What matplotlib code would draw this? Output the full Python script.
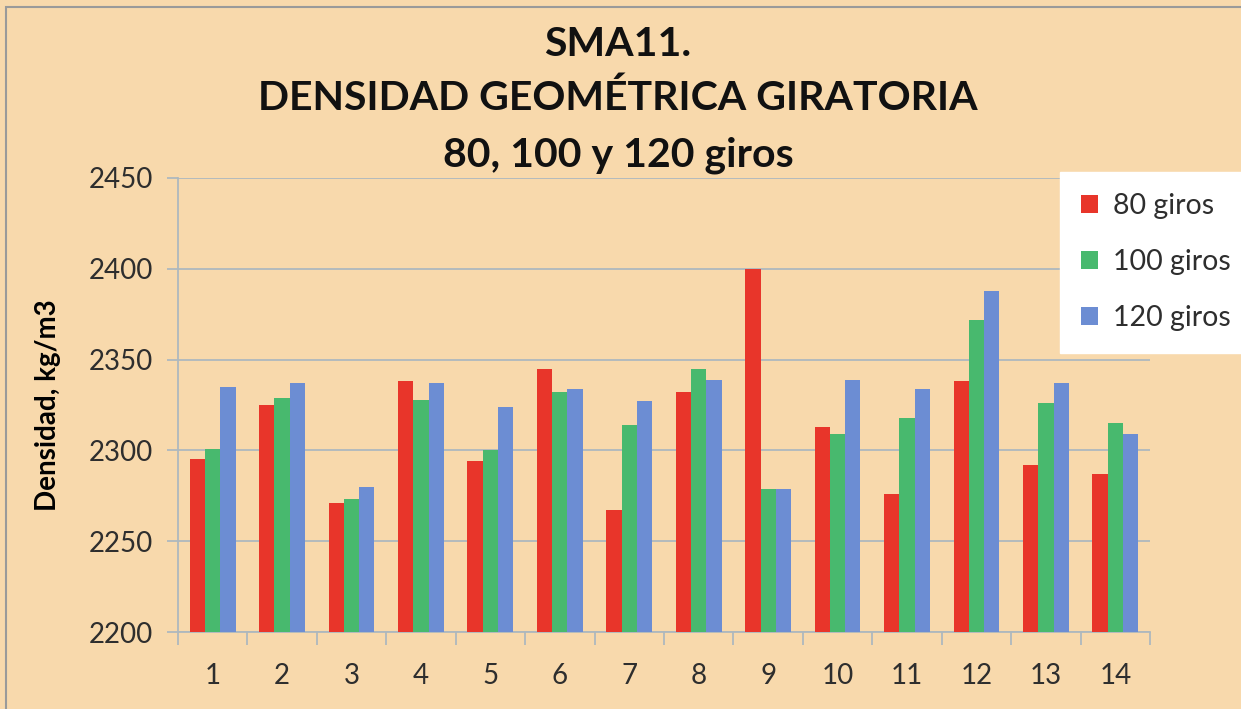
import numpy as np
import matplotlib
matplotlib.use('Agg')
import matplotlib.pyplot as plt
from matplotlib.patches import Rectangle

plt.rcParams['font.family'] = ['Lato', 'DejaVu Sans']

# values
muestras = ['1', '2', '3', '4', '5', '6', '7', '8', '9', '10', '11', '12', '13', '14']
giros_80 = [2295, 2325, 2271, 2338, 2294, 2345, 2267, 2332, 2400, 2313, 2276, 2338, 2292, 2287]
giros_100 = [2301, 2329, 2273, 2328, 2300, 2332, 2314, 2345, 2279, 2309, 2318, 2372, 2326, 2315]
giros_120 = [2335, 2337, 2280, 2337, 2324, 2334, 2327, 2339, 2279, 2339, 2334, 2388, 2337, 2309]
series_names = ['80 giros', '100 giros', '120 giros']
colores = ['#E8352A', '#48B96E', '#6C8DD3']
titulo = ['SMA11.', 'DENSIDAD GEOMÉTRICA GIRATORIA', '80, 100 y 120 giros']

bg = '#F8D9AC'
fig = plt.figure(figsize=(12.41, 7.09), dpi=100, facecolor=bg)
ax = fig.add_axes([0.1434, 0.1086, 0.7833, 0.6404])
ax.set_facecolor(bg)

x = np.arange(len(muestras))
w = 0.22
for i, (vals, name, c) in enumerate(zip([giros_80, giros_100, giros_120], series_names, colores)):
    ax.bar(x + (i - 1) * w, vals, w, bottom=0, color=c, label=name, zorder=3)

ax.set_ylim(2200, 2450)
ax.set_xlim(-0.5, len(muestras) - 0.5)
ax.set_yticks(np.arange(2200, 2451, 50))
ax.set_xticks(x)
ax.set_xticklabels(muestras)
ax.set_xticks(np.arange(-0.5, len(muestras), 1), minor=True)
ax.yaxis.grid(True, color='#AEB8BE', linewidth=1.3, zorder=0)
for s in ['top', 'right']:
    ax.spines[s].set_visible(False)
for s in ['left', 'bottom']:
    ax.spines[s].set_color('#AEB8BE')
    ax.spines[s].set_linewidth(1.3)
ax.tick_params(axis='y', length=8, color='#AEB8BE', width=1.3, labelsize=20, labelcolor='#2E2E2E', pad=10)
ax.tick_params(axis='x', which='major', length=0, labelsize=20, labelcolor='#2E2E2E', pad=22)
ax.tick_params(axis='x', which='minor', length=9, color='#AEB8BE', width=1.3)

ax.set_ylabel('Densidad, kg/m3', fontsize=20, fontweight='bold', labelpad=20)

for yy, line in zip([45, 98, 155], titulo):
    fig.text(618 / 1241, 1 - yy / 709, line, ha='center', va='center',
             fontsize=29.5, fontweight='bold', color='#111111')

leg = fig.legend(loc='upper left', bbox_to_anchor=(1060 / 1241, 1 - 172 / 709),
                 bbox_transform=fig.transFigure, fontsize=20.5, frameon=True,
                 fancybox=False, handlelength=0.6, handleheight=0.6, handletextpad=0.5,
                 labelspacing=1.05, borderpad=0.75, borderaxespad=0)
leg.get_frame().set_facecolor('white')
leg.get_frame().set_edgecolor('white')
leg.get_frame().set_alpha(1)
for t in leg.get_texts():
    t.set_color('#2E2E2E')

fig.patches.append(Rectangle((6 / 1241, -0.1), 1.2, 1 - 7 / 709 + 0.1, transform=fig.transFigure,
                             fill=False, edgecolor='#9A9A9A', linewidth=1.5))

fig.savefig('out.png', dpi=100, facecolor=bg)
